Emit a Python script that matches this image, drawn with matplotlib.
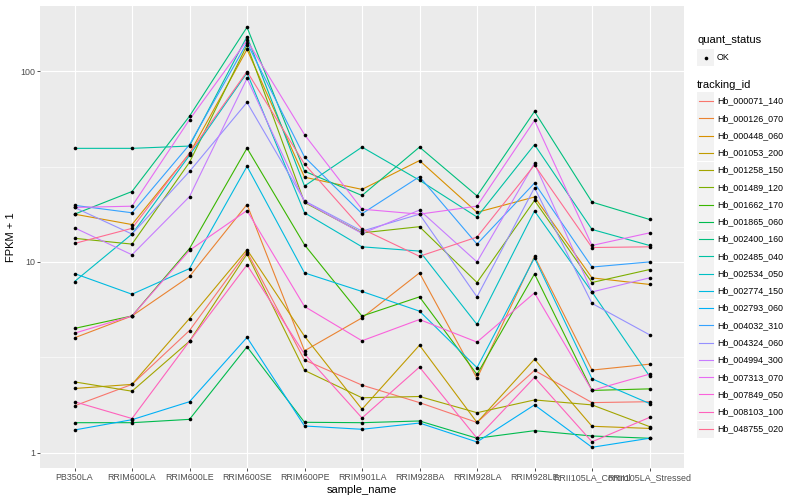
import matplotlib
matplotlib.use("Agg")
import matplotlib.pyplot as plt
from matplotlib.ticker import FixedLocator, NullFormatter
from matplotlib.patches import Rectangle
from matplotlib.lines import Line2D

plt.rcParams['font.family'] = ['Liberation Sans', 'DejaVu Sans']

samples = ["PB350LA", "RRIM600LA", "RRIM600LE", "RRIM600SE", "RRIM600PE",
           "RRIM901LA", "RRIM928BA", "RRIM928LA", "RRIM928LE",
           "RRII105LA_Control", "RRII105LA_Stressed"]

tracking_ids = ["Hb_000071_140", "Hb_000126_070", "Hb_000448_060", "Hb_001053_200",
                "Hb_001258_150", "Hb_001489_120", "Hb_001662_170", "Hb_001865_060",
                "Hb_002400_160", "Hb_002485_040", "Hb_002534_050", "Hb_002774_150",
                "Hb_002793_060", "Hb_004032_310", "Hb_004324_060", "Hb_004994_300",
                "Hb_007313_070", "Hb_007849_050", "Hb_008103_100", "Hb_048755_020"]

colors = ["#F8766D", "#EA8331", "#D89000", "#C09B00", "#A3A500", "#7CAE00",
          "#39B600", "#00BB4E", "#00BF7D", "#00C1A3", "#00BFC4", "#00BAE0",
          "#00B0F6", "#35A2FF", "#9590FF", "#C77CFF", "#E76BF3", "#FA62DB",
          "#FF62BC", "#FF6C91"]

Hb_000071_140 = [1.76, 2.28, 4.37, 11.3, 3.06, 2.26, 1.83, 1.44, 2.70, 1.83, 1.85]
Hb_000126_070 = [4.0, 5.21, 8.39, 20.0, 3.42, 5.09, 8.76, 2.45, 10.7, 2.71, 2.91]
Hb_000448_060 = [17.8, 15.7, 37.0, 130, 27.8, 24.0, 34.0, 18.2, 21.9, 8.25, 7.62]
Hb_001053_200 = [2.17, 2.28, 5.05, 11.6, 4.08, 1.69, 3.66, 1.44, 3.09, 1.375, 1.34]
Hb_001258_150 = [2.35, 2.10, 3.84, 11.0, 2.70, 1.94, 1.97, 1.62, 1.89, 1.78, 1.37]
Hb_001489_120 = [13.3, 12.4, 33.3, 137, 20.5, 14.2, 15.3, 7.8, 21.0, 7.8, 9.12]
Hb_001662_170 = [4.48, 5.21, 11.75, 39.5, 12.3, 5.20, 6.56, 2.57, 8.65, 2.12, 2.16]
Hb_001865_060 = [1.436, 1.436, 1.495, 3.59, 1.443, 1.436, 1.466, 1.19, 1.304, 1.223, 1.19]
Hb_002400_160 = [17.8, 23.4, 58.1, 170, 29.9, 22.3, 40.0, 22.2, 61.5, 20.6, 16.7]
Hb_002485_040 = [39.4, 39.4, 40.5, 152, 25.0, 40.0, 26.8, 17.2, 41.2, 14.8, 12.2]
Hb_002534_050 = [7.89, 14.0, 36.2, 98, 18.1, 12.0, 11.4, 4.70, 18.5, 6.96, 2.52]
Hb_002774_150 = [8.69, 6.77, 9.23, 31.7, 8.76, 7.0, 5.52, 2.79, 10.5, 2.44, 1.81]
Hb_002793_060 = [1.315, 1.489, 1.85, 4.02, 1.38, 1.326, 1.43, 1.138, 1.78, 1.067, 1.19]
Hb_004032_310 = [19.8, 18.1, 41.2, 140.8, 35.5, 17.9, 28.0, 12.4, 25.9, 9.4, 10.0]
Hb_004324_060 = [19.3, 14.0, 29.8, 68.6, 20.9, 14.5, 17.8, 6.56, 24.5, 6.06, 4.15]
Hb_004994_300 = [15.1, 10.9, 22.0, 91.6, 20.7, 14.1, 18.7, 10.0, 32.9, 6.96, 8.25]
Hb_007313_070 = [19.3, 19.6, 55.7, 145, 46.5, 18.9, 17.8, 19.6, 55.2, 12.2, 14.2]
Hb_007849_050 = [4.23, 5.21, 11.5, 18.6, 5.84, 3.86, 4.99, 3.80, 6.88, 2.12, 2.58]
Hb_008103_100 = [1.85, 1.51, 3.84, 9.65, 3.29, 1.52, 2.81, 1.19, 2.48, 1.14, 1.53]
Hb_048755_020 = [12.5, 15.0, 37.2, 99.6, 32.6, 14.9, 10.7, 13.5, 32.2, 11.9, 12.0]

series = [Hb_000071_140, Hb_000126_070, Hb_000448_060, Hb_001053_200, Hb_001258_150,
          Hb_001489_120, Hb_001662_170, Hb_001865_060, Hb_002400_160, Hb_002485_040,
          Hb_002534_050, Hb_002774_150, Hb_002793_060, Hb_004032_310, Hb_004324_060,
          Hb_004994_300, Hb_007313_070, Hb_007849_050, Hb_008103_100, Hb_048755_020]

y_ticks = [1, 10, 100]
y_tick_labels = ["1", "10", "100"]

W, H = 800, 500
fig = plt.figure(figsize=(8, 5), dpi=100)
ax = fig.add_axes([40 / W, 1 - 468 / H, (684 - 40) / W, (468 - 5.5) / H])
ax.set_facecolor("#EBEBEB")
for s in ax.spines.values():
    s.set_visible(False)

x = list(range(len(samples)))
for vals, c in zip(series, colors):
    ax.plot(x, vals, color=c, lw=0.8, zorder=3, solid_capstyle='butt')
for vals in series:
    ax.plot(x, vals, 'o', color='black', ms=2.6, zorder=4, mew=0)

ax.set_yscale('log')
ax.set_ylim(0.831, 221)
ax.set_xlim(-0.6, len(samples) - 1 + 0.6)

ax.yaxis.set_major_locator(FixedLocator(y_ticks))
ax.set_yticklabels(y_tick_labels)
ax.yaxis.set_minor_locator(FixedLocator([10 ** -0.5 * 10 ** k for k in range(0, 4)]))
ax.yaxis.set_minor_formatter(NullFormatter())
ax.set_xticks(x)
ax.set_xticklabels(samples)

ax.grid(which='major', color='white', lw=0.8, zorder=0)
ax.grid(which='minor', axis='y', color='white', lw=0.4, zorder=0)
ax.set_axisbelow(True)
ax.tick_params(axis='both', which='major', length=2.2, width=0.6, color='#333333',
               labelsize=6.4, labelcolor='#4D4D4D', pad=1.5)
ax.tick_params(axis='y', which='minor', length=0)

ax.set_xlabel("sample_name", fontsize=8, color='black', labelpad=2)
ax.set_ylabel("FPKM + 1", fontsize=8, color='black', labelpad=3)

# legend drawn in figure pixel coordinates
def fx(px):
    return px / W

def fy(py):
    return 1 - py / H

fig.text(fx(697), fy(40), "quant_status", fontsize=8, va='center', ha='left')
fig.patches.append(Rectangle((fx(697), fy(66)), 17 / W, 17 / H, transform=fig.transFigure,
                             facecolor='#F2F2F2', edgecolor='none'))
fig.lines.append(Line2D([fx(705.5)], [fy(57.5)], marker='o', color='black', ms=2.6, mew=0,
                        transform=fig.transFigure))
fig.text(fx(717), fy(57.5), "OK", fontsize=6.4, va='center', ha='left')

fig.text(fx(697), fy(85), "tracking_id", fontsize=8, va='center', ha='left')
step = (429 - 101) / 19
for i, (name, c) in enumerate(zip(tracking_ids, colors)):
    yc = 101 + i * step
    fig.patches.append(Rectangle((fx(697), fy(yc + 8.5)), 17 / W, 17 / H,
                                 transform=fig.transFigure, facecolor='#F2F2F2',
                                 edgecolor='none'))
    fig.lines.append(Line2D([fx(698.5), fx(712.5)], [fy(yc), fy(yc)], color=c, lw=0.8,
                            transform=fig.transFigure))
    fig.text(fx(717), fy(yc), name, fontsize=6.4, va='center', ha='left')

fig.savefig("out.png", dpi=100)
